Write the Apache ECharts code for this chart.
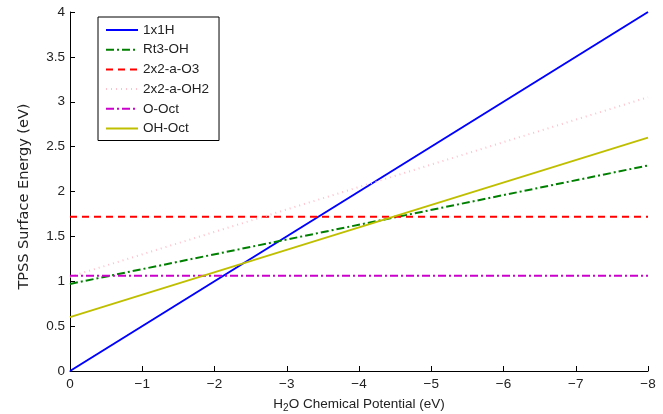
<!DOCTYPE html>
<html>
<head>
<meta charset="utf-8">
<script src="https://cdn.jsdelivr.net/npm/echarts@6/dist/echarts.min.js"></script>
<style>html,body{margin:0;padding:0;background:#fff;}#main{width:663px;height:414px;}</style>
</head>
<body>
<div id="main"></div>
<script>
// chemical potential end points (eV)
var muH2O = [0, -8];
var names = ['1x1H', 'Rt3-OH', '2x2-a-O3', '2x2-a-OH2', 'O-Oct', 'OH-Oct'];
var e1x1H = [0, 4];
var eRt3OH = [0.97, 2.29];
var e2x2O3 = [1.72, 1.72];
var e2x2OH2 = [1.05, 3.05];
var eOOct = [1.06, 1.06];
var eOHOct = [0.6, 2.6];
var yTicks = ['0', '0.5', '1', '1.5', '2', '2.5', '3', '3.5', '4'];

var colors = ['#0000ff', '#008000', '#ff0000', '#ffc0cb', '#cc00cc', '#bfbf00'];
var dashes = ['solid', [8, 3, 2, 3], [7, 5], [1, 4], [8, 3, 2, 3], 'solid'];
var values = [e1x1H, eRt3OH, e2x2O3, e2x2OH2, eOOct, eOHOct];

function pairs(ys) {
    return muH2O.map(function (x, i) { return [x, ys[i]]; });
}

var font = 'Liberation Sans, Arial, sans-serif';
var myChart = echarts.init(document.getElementById('main'));
var option = {
    animation: false,
    grid: { left: 70, right: 15, top: 12, bottom: 43, outerBoundsMode: 'none' },
    legend: {
        orient: 'vertical',
        left: 98,
        top: 17,
        width: 126,
        padding: [6, 10, 5, 7],
        borderColor: '#000',
        borderWidth: 1,
        backgroundColor: '#fff',
        itemWidth: 32,
        itemHeight: 14,
        itemGap: 5.7,
        itemStyle: { opacity: 0 },
        textStyle: { fontFamily: font, fontSize: 13.5, color: '#222', padding: [0, 0, 0, 0] },
        data: names
    },
    xAxis: {
        type: 'value',
        min: -8,
        max: 0,
        interval: 1,
        inverse: true,
        name: 'H{sub|2}O Chemical Potential (eV)',
        nameLocation: 'middle',
        nameGap: 24,
        nameTextStyle: {
            fontFamily: font, fontSize: 13.5, color: '#222',
            rich: { sub: { fontFamily: font, fontSize: 10, color: '#222', verticalAlign: 'bottom', padding: [8, 0, 0, 0] } }
        },
        splitLine: { show: false },
        axisLine: { lineStyle: { color: '#000', width: 1 } },
        axisTick: { inside: true, length: 5, lineStyle: { color: '#000' } },
        axisLabel: {
            fontFamily: font, fontSize: 13.5, color: '#222', margin: 6,
            formatter: function (v) { return String(v).replace('-', '\u2212'); }
        }
    },
    yAxis: {
        type: 'value',
        min: 0,
        max: 4,
        interval: 0.5,
        name: 'TPSS Surface Energy (eV)',
        nameLocation: 'middle',
        nameGap: 38,
        nameTextStyle: { fontFamily: 'DejaVu Sans, sans-serif', fontSize: 14.5, color: '#222', padding: [0, 10, 0, 0] },
        splitLine: { show: false },
        axisLine: { show: true, lineStyle: { color: '#000', width: 1 } },
        axisTick: { show: true, inside: true, length: 5, lineStyle: { color: '#000' } },
        axisLabel: {
            fontFamily: font, fontSize: 13.5, color: '#222', margin: 5,
            formatter: function (v) { return yTicks[Math.round(v * 2)]; }
        }
    },
    series: names.map(function (n, i) {
        return {
            name: n,
            type: 'line',
            symbol: 'none',
            color: colors[i],
            lineStyle: { color: colors[i], width: 2, type: dashes[i] },
            data: pairs(values[i])
        };
    })
};
myChart.setOption(option);
</script>
</body>
</html>
